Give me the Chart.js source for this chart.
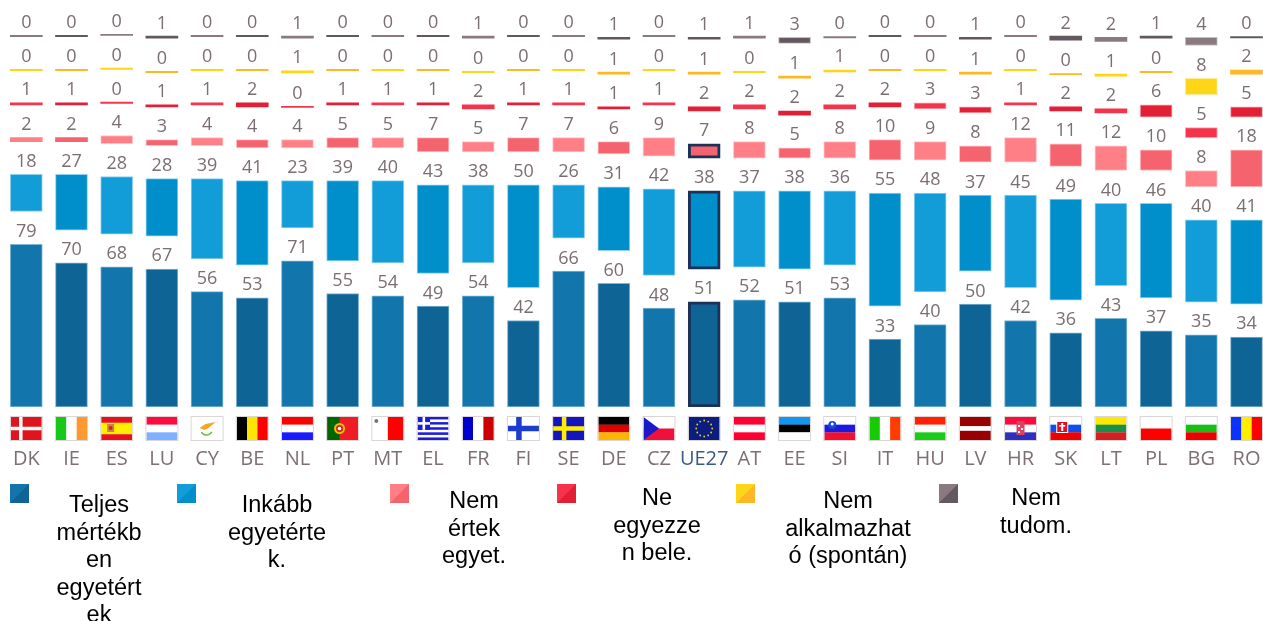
<!DOCTYPE html>
<html><head><meta charset="utf-8">
<style>html,body{margin:0;padding:0;background:#fff;overflow:hidden}#w{position:relative;width:1263px;height:621px;overflow:hidden}</style>
<script src="https://cdn.jsdelivr.net/npm/chart.js@4"></script>
</head><body><div id="w"><canvas id="c" width="1270" height="621"></canvas></div>
<script>
const categories=["DK","IE","ES","LU","CY","BE","NL","PT","MT","EL","FR","FI","SE","DE","CZ","UE27","AT","EE","SI","IT","HU","LV","HR","SK","LT","PL","BG","RO"];
const teljes=[79,70,68,67,56,53,71,55,54,49,54,42,66,60,48,51,52,51,53,33,40,50,42,36,43,37,35,34];
const inkabb=[18,27,28,28,39,41,23,39,40,43,38,50,26,31,42,38,37,38,36,55,48,37,45,49,40,46,40,41];
const nemErtek=[2,2,4,3,4,4,4,5,5,7,5,7,7,6,9,7,8,5,8,10,9,8,12,11,12,10,8,18];
const neEgyezzen=[1,1,0,1,1,2,0,1,1,1,2,1,1,1,1,2,2,2,2,2,3,3,1,2,2,6,5,5];
const nemAlk=[0,0,0,0,0,0,1,0,0,0,0,0,0,1,0,1,0,1,1,0,0,1,0,0,1,0,8,2];
const nemTudom=[0,0,0,1,0,0,1,0,0,0,1,0,0,1,0,1,1,3,0,0,0,1,0,2,2,1,4,0];
const seriesValues=[teljes,inkabb,nemErtek,neEgyezzen,nemAlk,nemTudom];
const seriesNames=[["Teljes","mértékb","en","egyetért","ek"],["Inkább","egyetérte","k."],["Nem","értek","egyet."],["Ne","egyezze","n bele."],["Nem","alkalmazhat","ó (spontán)"],["Nem","tudom."]];
const lightColors=["#1276ad","#129cd8","#ff7f87","#f5334a","#ffd617","#8a7a7f"];
const darkColors=["#0f6496","#008fca","#f5636f","#e21f35","#fdb823","#635760"];
const edgeColors=["#7fb4d2","#8fd0ee","#ffc4c8","#f9a3ac","#ffeb9a","#c8c0c2"];
const legendBox=[10,177,390,557,736,939];
const legendCenter=[99,277,474,657,848,1036];
const legendBase=[512,512,508,505,508,505];
const GAP=15.9, EU=categories.indexOf("UE27"), NAVY="#1c3158";

const datasets=[];
seriesValues.forEach((vals,s)=>{
  datasets.push({label:seriesNames[s].join(" "),data:vals,stack:"a",minBarLength:1.2,barThickness:32,
    backgroundColor:vals.map((v,i)=>i%2?darkColors[s]:lightColors[s]),
    borderColor:vals.map((v,i)=>(i===EU&&v>=5)?NAVY:edgeColors[s]),
    borderWidth:vals.map((v,i)=>(i===EU&&v>=5)?3:(v>=3?1:0)),
    borderSkipped:false});
  if(s<seriesValues.length-1) datasets.push({label:"",spacer:true,data:categories.map(()=>GAP),stack:"a",barThickness:32,backgroundColor:"rgba(0,0,0,0)",borderWidth:0});
});

function stripesH(c,x,y,w,h,cols,weights){weights=weights||cols.map(()=>1);const t=weights.reduce((a,b)=>a+b,0);let p=y;cols.forEach((k,i)=>{const d=h*weights[i]/t;c.fillStyle=k;c.fillRect(x,p,w,d+0.2);p+=d;});}
function stripesV(c,x,y,w,h,cols){const d=w/cols.length;cols.forEach((k,i)=>{c.fillStyle=k;c.fillRect(x+i*d,y,d+0.2,h);});}
function cross(c,x,y,w,h,bg,fg,t,cx){c.fillStyle=bg;c.fillRect(x,y,w,h);c.fillStyle=fg;c.fillRect(x+cx-t/2,y,t,h);c.fillRect(x,y+h/2-t/2,w,t);}
function dot(c,x,y,r,k){c.fillStyle=k;c.beginPath();c.arc(x,y,r,0,7);c.fill();}
const flags={
 DK:(c,x,y,w,h)=>cross(c,x,y,w,h,"#e0141e","#fff",3.5,10),
 IE:(c,x,y,w,h)=>stripesV(c,x,y,w,h,["#18c818","#fff","#ff9a32"]),
 ES:(c,x,y,w,h)=>{stripesH(c,x,y,w,h,["#e8101c","#ffee00","#e8101c"],[1,2,1]);c.fillStyle="#d0804a";c.fillRect(x+6,y+7,7,8);dot(c,x+9.5,y+11,2,"#c03020");},
 LU:(c,x,y,w,h)=>stripesH(c,x,y,w,h,["#ff0a3c","#fff","#7eb0ff"]),
 CY:(c,x,y,w,h)=>{c.fillStyle="#fff";c.fillRect(x,y,w,h);c.fillStyle="#f5a623";c.beginPath();c.moveTo(x+8,y+11);c.lineTo(x+14,y+7);c.lineTo(x+24,y+5);c.lineTo(x+17,y+11);c.lineTo(x+13,y+13);c.closePath();c.fill();c.strokeStyle="#6cc04a";c.lineWidth=1.5;c.beginPath();c.arc(x+15,y+12,6,0.5,2.6);c.stroke();},
 BE:(c,x,y,w,h)=>stripesV(c,x,y,w,h,["#000","#ffe600","#ff0000"]),
 NL:(c,x,y,w,h)=>stripesH(c,x,y,w,h,["#ff0000","#fff","#1a1aff"]),
 PT:(c,x,y,w,h)=>{c.fillStyle="#ee1c25";c.fillRect(x,y,w,h);c.fillStyle="#006600";c.fillRect(x,y,w*0.4,h);dot(c,x+w*0.4,y+h/2,5.5,"#e8c000");dot(c,x+w*0.4,y+h/2,3.5,"#d02020");dot(c,x+w*0.4,y+h/2,1.8,"#fff");},
 MT:(c,x,y,w,h)=>{stripesV(c,x,y,w,h,["#fff","#ff0000"]);dot(c,x+4,y+4,2,"#777");},
 EL:(c,x,y,w,h)=>{const cols=[];for(let i=0;i<9;i++)cols.push(i%2?"#fff":"#1a1ae0");stripesH(c,x,y,w,h,cols);c.fillStyle="#1a1ae0";c.fillRect(x,y,12.5,12.8);c.fillStyle="#fff";c.fillRect(x+5,y,2.6,12.8);c.fillRect(x,y+5.1,12.5,2.6);},
 FR:(c,x,y,w,h)=>stripesV(c,x,y,w,h,["#0000cc","#fff","#cc0000"]),
 FI:(c,x,y,w,h)=>cross(c,x,y,w,h,"#fff","#1a3cd0",5.5,11),
 SE:(c,x,y,w,h)=>cross(c,x,y,w,h,"#1414c0","#ffee00",4.5,11),
 DE:(c,x,y,w,h)=>stripesH(c,x,y,w,h,["#000","#dd0000","#ffb400"]),
 CZ:(c,x,y,w,h)=>{stripesH(c,x,y,w,h,["#fff","#f0103c"]);c.fillStyle="#1a1ac8";c.beginPath();c.moveTo(x,y);c.lineTo(x+w*0.5,y+h/2);c.lineTo(x,y+h);c.closePath();c.fill();},
 UE27:(c,x,y,w,h)=>{c.fillStyle="#0c1d80";c.fillRect(x,y,w,h);for(let i=0;i<12;i++){const a=i*Math.PI/6;dot(c,x+w/2+8*Math.cos(a),y+h/2+8*Math.sin(a),0.9,"#e8d020");}},
 AT:(c,x,y,w,h)=>stripesH(c,x,y,w,h,["#ff0033","#fff","#ff0033"]),
 EE:(c,x,y,w,h)=>stripesH(c,x,y,w,h,["#1296f0","#000","#fff"]),
 SI:(c,x,y,w,h)=>{stripesH(c,x,y,w,h,["#fff","#1a1ae0","#f01030"]);dot(c,x+8,y+8,4,"#1a4ad0");dot(c,x+8,y+7,1.5,"#fff");},
 IT:(c,x,y,w,h)=>stripesV(c,x,y,w,h,["#16cc00","#fff","#ff3c00"]),
 HU:(c,x,y,w,h)=>stripesH(c,x,y,w,h,["#ff2200","#fff","#18cc18"]),
 LV:(c,x,y,w,h)=>stripesH(c,x,y,w,h,["#990000","#fff","#990000"],[2,1,2]),
 HR:(c,x,y,w,h)=>{stripesH(c,x,y,w,h,["#ff0a3c","#fff","#3030c0"]);c.fillStyle="#e04060";c.fillRect(x+11.5,y+4,8,14);c.fillStyle="#fff";c.fillRect(x+13,y+8,2,2);c.fillRect(x+16,y+11,2,2);c.fillRect(x+13,y+14,2,2);},
 SK:(c,x,y,w,h)=>{stripesH(c,x,y,w,h,["#fff","#0a50f0","#f00000"]);c.fillStyle="#fff";c.fillRect(x+6,y+4,12,12);c.fillStyle="#e01020";c.fillRect(x+7,y+5,10,10);c.fillStyle="#fff";c.fillRect(x+11,y+6,2,8);c.fillRect(x+9,y+8,6,1.6);},
 LT:(c,x,y,w,h)=>stripesH(c,x,y,w,h,["#ffe800","#189048","#d42020"]),
 PL:(c,x,y,w,h)=>stripesH(c,x,y,w,h,["#fff","#ff0000"]),
 BG:(c,x,y,w,h)=>stripesH(c,x,y,w,h,["#fff","#16bf16","#ee0000"]),
 RO:(c,x,y,w,h)=>stripesV(c,x,y,w,h,["#0a33ff","#ffee00","#ff0000"])
};

const decor={id:"decor",
 afterDatasetsDraw(chart){
  const c=chart.ctx,xs=chart.scales.x;
  c.save();
  c.textAlign="center";c.textBaseline="alphabetic";
  c.font='18px "Open Sans"';c.fillStyle="#7b6e73";
  chart.data.datasets.forEach((d,di)=>{
    if(d.spacer)return;
    chart.getDatasetMeta(di).data.forEach((el,i)=>{
      c.fillText(String(d.data[i]),el.x,Math.min(el.y,el.base)-7.5);
    });
  });
  categories.forEach((k,i)=>{
    const cx=xs.getPixelForTick(i),x=cx-15.5,y=417,w=31,h=23;
    c.save();c.beginPath();c.rect(x,y,w,h);c.clip();flags[k](c,x,y,w,h);c.restore();
    c.strokeStyle="rgba(190,180,180,0.55)";c.lineWidth=1;c.strokeRect(x-0.5,y-0.5,w+1,h+1);
  });
  c.font='23.5px "Liberation Sans"';c.fillStyle="#000";
  seriesNames.forEach((lines,s)=>{
    const bx=legendBox[s],by=484,bs=19;
    c.fillStyle=lightColors[s];c.fillRect(bx,by,bs,bs);
    c.fillStyle=darkColors[s];c.beginPath();c.moveTo(bx+bs,by);c.lineTo(bx+bs,by+bs);c.lineTo(bx,by+bs);c.closePath();c.fill();
    c.fillStyle="#000";
    lines.forEach((t,j)=>c.fillText(t,legendCenter[s],legendBase[s]+j*27.5));
  });
  c.restore();
 }};

new Chart(document.getElementById("c"),{type:"bar",
 data:{labels:categories,datasets},
 options:{responsive:false,animation:false,
  layout:{padding:{left:3.7,right:0.9,top:15.6,bottom:150}},
  plugins:{legend:{display:false},tooltip:{enabled:false},title:{display:false}},
  scales:{
   x:{stacked:true,offset:true,grid:{display:true,drawOnChartArea:false,drawTicks:true,tickLength:40,tickColor:"rgba(0,0,0,0)",color:"rgba(0,0,0,0)"},border:{display:false},
      ticks:{autoSkip:false,maxRotation:0,minRotation:0,padding:0,font:{family:'"Open Sans"',size:20},
             color:(ctx)=>ctx.index===EU?"#3a5a85":"#7d6f74"}},
   y:{stacked:true,display:false,min:0,max:190}
  }},
 plugins:[decor]});
</script></body></html>
